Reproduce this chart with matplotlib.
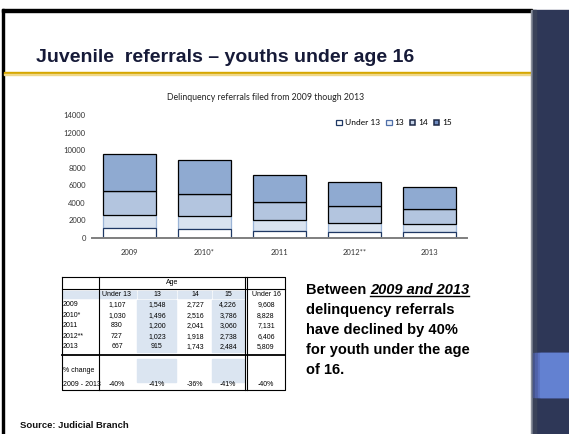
import numpy as np
import matplotlib
matplotlib.use('Agg')
import matplotlib.pyplot as plt
from matplotlib.patches import Rectangle, Patch
from matplotlib import font_manager

# data
years = ['2009', '2010*', '2011', '2012**', '2013']
under13 = [1107, 1030, 830, 727, 667]
age13 = [1548, 1496, 1200, 1023, 915]
age14 = [2727, 2516, 2041, 1918, 1743]
age15 = [4226, 3786, 3060, 2738, 2484]
under16 = [9608, 8828, 7131, 6406, 5809]
pct_change = ['-40%', '-41%', '-36%', '-41%', '-40%']
series_names = ['Under 13', '13', '14', '15']
table_cols = ['Under 13', '13', '14', '15', 'Under 16']
yticks = [0, 2000, 4000, 6000, 8000, 10000, 12000, 14000]

names = {f.name for f in font_manager.fontManager.ttflist}
narrow = 'Liberation Sans Narrow' if 'Liberation Sans Narrow' in names else 'Liberation Sans'
chart_font = 'Lato'

W, H = 569, 434
fig = plt.figure(figsize=(W / 100, H / 100), dpi=100)
fig.patch.set_facecolor('white')

# slide decoration, pixel coordinates
bg = fig.add_axes([0, 0, 1, 1])
bg.set_xlim(0, W)
bg.set_ylim(H, 0)
bg.axis('off')
bg.add_patch(Rectangle((2, 9), 530, 2.6, color='black'))
bg.add_patch(Rectangle((2, 9), 2.2, 425, color='black'))
bg.add_patch(Rectangle((4, 71.6), 527, 2.8, color='#d6a700'))
bg.add_patch(Rectangle((4, 74.4), 527, 1.0, color='#efd88a'))
bg.add_patch(Rectangle((530.6, 10), 2, 424, color='#8b909c'))
bg.add_patch(Rectangle((532.6, 10), 37, 424, color='#2e3757'))
bg.add_patch(Rectangle((532.6, 10), 3, 424, color='#3a4259'))
for i, c in enumerate(['#46548a', '#5062a8', '#5a70bf', '#6381d1']):
    bg.add_patch(Rectangle((533 + i * 2.5, 353), 36 - i * 2.5, 44, color=c))

bg.text(36, 57, 'Juvenile  referrals \u2013 youths under age 16', fontsize=14,
        fontweight='bold', family='Liberation Sans', color='#161a38', va='center', ha='left')

# stacked bar chart
ax = fig.add_axes([92 / W, (H - 238) / H, 375 / W, 123 / H])
x = np.arange(len(years))
fills = ['white', '#d9e3f0', '#b3c5df', '#8faad1']
edges = ['#1f3864', '#9bb4d6', 'black', 'black']
zs = [3, 2, 3, 4]
bottom = np.zeros(len(years))
for vals, fc, ec, z in zip([under13, age13, age14, age15], fills, edges, zs):
    ax.bar(x, vals, 0.7, bottom=bottom, color=fc, edgecolor=ec, linewidth=0.9, zorder=z)
    bottom += np.array(vals)
ax.set_xlim(-0.5, 4.5)
ax.set_ylim(0, 14000)
ax.set_yticks(yticks)
ax.set_yticklabels([str(v) for v in yticks], fontsize=5.5, family=chart_font, color='#333333')
ax.set_xticks(x)
ax.set_xticklabels(years, fontsize=5.5, family=chart_font, color='#333333')
ax.tick_params(axis='y', length=0, pad=4.5)
ax.tick_params(axis='x', length=0, pad=8)
for s in ['top', 'right', 'left']:
    ax.spines[s].set_visible(False)
ax.spines['bottom'].set_color('#7f7f7f')
ax.spines['bottom'].set_linewidth(1.4)
ax.spines['bottom'].set_zorder(5)
ax.patch.set_alpha(0)

handles = [Patch(facecolor='white', edgecolor='#1f3864', linewidth=0.9),
           Patch(facecolor='#eef3fa', edgecolor='#4f6fa8', linewidth=0.9),
           Patch(facecolor='#c3d1e6', edgecolor='#1c2846', linewidth=1.1),
           Patch(facecolor='#6f8bbf', edgecolor='#1c2846', linewidth=1.1)]
ax.legend(handles, series_names, loc='center left', bbox_to_anchor=(0.643, 0.935), ncol=4,
          frameon=False, prop={'family': chart_font, 'size': 6}, handlelength=0.7,
          handleheight=0.7, columnspacing=0.7, handletextpad=0.3, borderaxespad=0)

bg.text(266, 97, 'Delinquency referrals filed from 2009 though 2013', fontsize=6.3,
        family=chart_font, ha='center', va='center', color='#222222')

# table
col_edges = [62, 99, 137, 177, 212, 245, 285]
shade = '#dbe5f1'
for c in [2, 4]:
    bg.add_patch(Rectangle((col_edges[c] + 0.5, 300), col_edges[c + 1] - col_edges[c] - 1.5, 52, color=shade))
    bg.add_patch(Rectangle((col_edges[c] + 0.5, 359), col_edges[c + 1] - col_edges[c] - 1.5, 23, color=shade))
for c in range(5):
    bg.add_patch(Rectangle((col_edges[c] + 1, 290.5), col_edges[c + 1] - col_edges[c] - 1.5, 7.5, color=shade))
tk = dict(color='black', lw=0.8)
bg.plot([62, 285, 285, 62, 62], [277, 277, 390, 390, 277], **tk)
bg.plot([99, 99], [277, 390], **tk)
bg.plot([245, 245], [277, 390], **tk)
bg.plot([247.5, 247.5], [277, 390], **tk)
bg.plot([62, 285], [289, 289], **tk)
bg.plot([62, 285], [355, 355], color='black', lw=1.3)

tf = dict(fontsize=5, family=narrow, color='black', va='center')
bg.text(172, 283, 'Age', ha='center', **tf)
centers = [117, 157, 195, 228, 266]
for cx, name in zip(centers, table_cols):
    bg.text(cx, 294, name, ha='center', **tf)
cols = [under13, age13, age14, age15, under16]
for i, yr in enumerate(years):
    ry = 304.7 + i * 10.55
    bg.text(63, ry, yr, ha='left', **tf)
    for cx, vals in zip(centers, cols):
        bg.text(cx, ry, f'{vals[i]:,}', ha='center', **tf)
bg.text(63, 371, '% change', ha='left', **tf)
bg.text(63, 385, '2009 - 2013', ha='left', **tf)
for cx, p in zip(centers, pct_change):
    bg.text(cx, 385, p, ha='center', **tf)

# text block
bf = dict(fontsize=10.5, family='Liberation Sans', fontweight='bold', color='black', va='baseline')
fig.canvas.draw()
r = fig.canvas.get_renderer()
t1 = bg.text(306, 294, 'Between ', ha='left', **bf)
fig.canvas.draw()
x1 = t1.get_window_extent(r).x1
t2 = bg.text(x1, 294, '2009 and 2013', ha='left', style='italic', **bf)
fig.canvas.draw()
bb = t2.get_window_extent(r)
bg.plot([bb.x0, bb.x1], [296.3, 296.3], color='black', lw=1.0)
for i, line in enumerate(['delinquency referrals', 'have declined by 40%',
                          'for youth under the age', 'of 16.']):
    bg.text(306, 314 + i * 20, line, ha='left', **bf)

bg.text(20, 425, 'Source: Judicial Branch', fontsize=6.8, family='Liberation Sans',
        fontweight='bold', color='#111111', va='center', ha='left')

fig.savefig('out.png', dpi=100)
